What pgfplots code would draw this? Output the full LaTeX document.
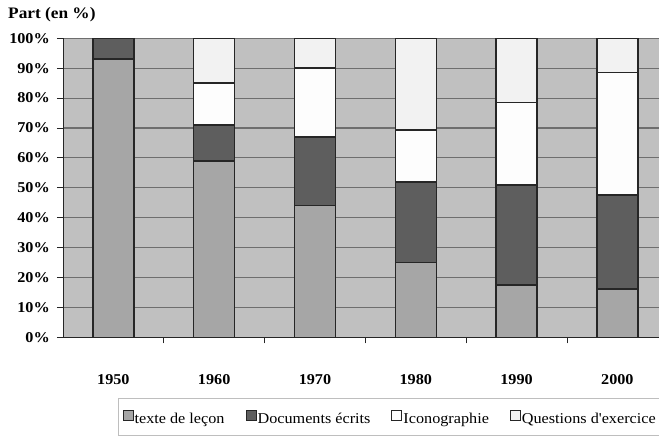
\documentclass[border=0pt]{standalone}
\usepackage{fontspec}
\setmainfont{Liberation Serif}[FakeStretch=1.08, Ligatures=TeXOff]
\usepackage{pgfplots}
\pgfplotsset{compat=1.18}
\definecolor{plotbg}{HTML}{C0C0C0}
\definecolor{ctexte}{HTML}{A6A6A6}
\definecolor{cdocs}{HTML}{5E5E5E}
\definecolor{cicono}{HTML}{FDFDFD}
\definecolor{cquest}{HTML}{F2F2F2}
\definecolor{gridc}{HTML}{6E6E6E}
\definecolor{barb}{HTML}{262626}
\definecolor{legb}{HTML}{BEBEBE}
\begin{document}
\begin{tikzpicture}
\useasboundingbox (0,0) rectangle (659pt,436pt);
\begin{axis}[
  at={(63pt,98.7pt)}, anchor=south west,
  scale only axis, width=596pt, height=299pt,
  xmin=-0.5, xmax=5.413, ymin=0, ymax=100,
  ybar stacked, bar width=41pt,
  axis background/.style={fill=plotbg},
  axis x line*=bottom, axis y line*=left,
  axis line style={draw=barb, line width=1pt},
  xtick={0,1,2,3,4,5},
  xticklabels={1950,1960,1970,1980,1990,2000},
  minor xtick={0.5,1.5,2.5,3.5,4.5},
  major x tick style={draw=none},
  minor x tick style={draw=barb, line width=0.8pt},
  minor tick length=6pt,
  major tick length=6pt,
  tick align=outside,
  ytick={0,10,...,100},
  yticklabels={0\%,10\%,20\%,30\%,40\%,50\%,60\%,70\%,80\%,90\%,100\%},
  y tick style={draw=barb, line width=0.8pt},
  ymajorgrids, major grid style={draw=gridc, line width=1.1pt},
  tick label style={font=\fontsize{15}{18}\selectfont\bfseries},
  xticklabel style={anchor=center, yshift=-36pt},
  yticklabel style={anchor=east, inner sep=0pt, xshift=-7pt},
  every axis plot/.append style={draw=barb, line width=1.5pt},
  legend columns=4,
  legend cell align=left,
  legend image code/.code={\draw[#1, line width=1pt] (0pt,-3pt) rectangle (10pt,7pt);},
  legend style={at={(0.0923,-0.203)}, anchor=north west,
    draw=legb, line width=1.2pt, fill=white,
    inner xsep=4pt, inner ysep=11.5pt,
    font=\fontsize{15}{18}\selectfont,
    nodes={inner xsep=1pt, inner ysep=0pt, text height=12.5pt, text depth=1.5pt},
    /tikz/every even column/.append style={column sep=20pt}},
]
\addplot[fill=ctexte] coordinates {(0,93) (1,59) (2,44) (3,25) (4,17.5) (5,16.2)};
\addplot[fill=cdocs] coordinates {(0,7) (1,12) (2,23) (3,27) (4,33.4) (5,31.4)};
\addplot[fill=cicono] coordinates {(0,0) (1,14) (2,23) (3,17.3) (4,27.7) (5,40.9)};
\addplot[fill=cquest] coordinates {(0,0) (1,15) (2,10) (3,30.7) (4,21.4) (5,11.5)};
\legend{texte de leçon, Documents écrits, Iconographie, Questions d'exercice\hspace{20pt}}
\end{axis}
\node[anchor=west, inner sep=0pt, font=\fontsize{16}{19}\selectfont\bfseries] at (8pt,421pt) {Part (en \%)};
\end{tikzpicture}
\end{document}
